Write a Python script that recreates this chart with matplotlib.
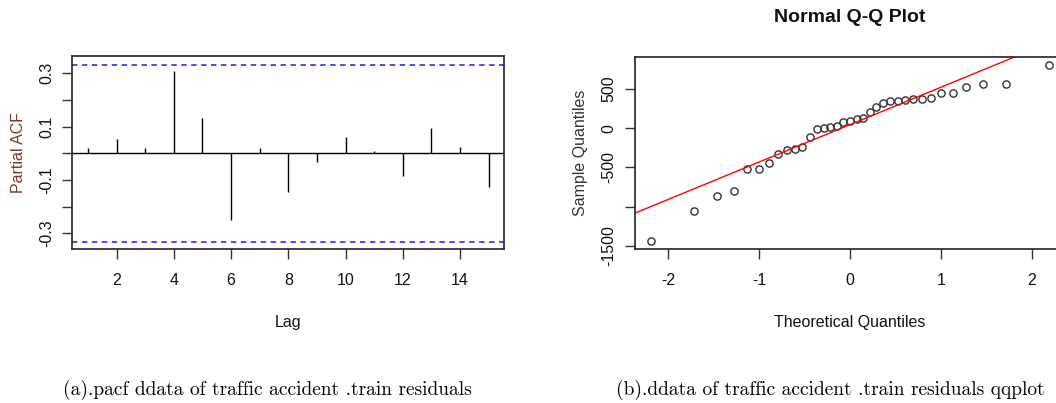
import numpy as np
import matplotlib as mpl
import matplotlib.pyplot as plt
from statistics import NormalDist

##################################################
# fonts: R default look -> Arial-like sans, captions in a LaTeX-like serif
mpl.rcParams['font.family'] = ['Liberation Sans', 'DejaVu Sans']
mpl.rcParams['axes.unicode_minus'] = False
##################################################
# data
lags = list(range(1, 16))
pacf_vals = [0.019, 0.054, 0.019, 0.310, 0.134, -0.252, 0.021, -0.146,
             -0.034, 0.062, 0.010, -0.085, 0.094, 0.022, -0.125]
n_obs = 35

residuals = [-1441, -1051, -864, -797, -513, -513, -441, -322, -280, -271,
             -242, -114, -8, 4, 17, 25, 80, 89, 123, 136, 203, 271, 322, 352,
             352, 364, 369, 377, 390, 445, 453, 525, 568, 568, 809]

pacf_yticks = [-0.3, -0.2, -0.1, 0.0, 0.1, 0.2, 0.3]
pacf_ylabels = ['-0.3', '', '-0.1', '', '0.1', '', '0.3']
pacf_xticks = [2, 4, 6, 8, 10, 12, 14]

qq_yticks = [-1500, -1000, -500, 0, 500]
qq_ylabels = ['-1500', '', '-500', '0', '500']
qq_xticks = [-2, -1, 0, 1, 2]

caption_a = '(a).pacf ddata of traffic accident .train residuals'
caption_b = '(b).ddata of traffic accident .train residuals qqplot'
##################################################
fig = plt.figure(figsize=(10.56, 4.03), dpi=100)

spine_c = '#222222'
fs = 11.5


def style_axes(ax):
    for s in ax.spines.values():
        s.set_color(spine_c)
        s.set_linewidth(1.2)
    ax.tick_params(direction='out', length=7, width=1.0, color='#333333',
                   labelsize=fs, labelcolor='#111111')
    ax.tick_params(axis='x', pad=10)
    ax.tick_params(axis='y', labelrotation=90, pad=6)
    for lab in ax.get_yticklabels():
        lab.set_va('center')


# ---- (a) PACF
ax1 = fig.add_axes([72 / 1056, 1 - 249 / 403, 432 / 1056, 193 / 403])
ax1.vlines(lags, 0, pacf_vals, color='black', lw=1.0)
ax1.axhline(0, color='black', lw=1.0)
bound = 1.96 / np.sqrt(n_obs)
for b in (bound, -bound):
    ax1.axhline(b, color='#3b3bff', lw=1.3, ls=(0, (3, 2.5)))
ax1.set_xlim(0.44, 15.54)
ax1.set_ylim(-0.359, 0.365)
ax1.set_xticks(pacf_xticks)
ax1.set_yticks(pacf_yticks)
ax1.set_yticklabels(pacf_ylabels)
style_axes(ax1)
ax1.set_xlabel('Lag', fontsize=fs, labelpad=20, color='#111111')
ax1.set_ylabel('Partial ACF', fontsize=fs, labelpad=9, color='#7a3528')

# ---- (b) Q-Q plot
sample = np.sort(np.array(residuals, dtype=float))
n = len(sample)
nd = NormalDist()
probs = (np.arange(1, n + 1) - 0.5) / n
theo = np.array([nd.inv_cdf(p) for p in probs])

# qqline through the quartiles
q1, q3 = np.percentile(sample, [25, 75])
t1, t3 = nd.inv_cdf(0.25), nd.inv_cdf(0.75)
slope = (q3 - q1) / (t3 - t1)
icpt = q1 - slope * t1

ax2 = fig.add_axes([634.7 / 1056, 1 - 249 / 403, 430.6 / 1056, 191.7 / 403])
ax2.plot(theo, sample, 'o', ms=5.2, mfc='none', mec='#333333', mew=1.0)
xx = np.array([-3.0, 3.0])
ax2.plot(xx, icpt + slope * xx, color='red', lw=1.0)
ax2.set_xlim(-2.37, 2.37)
ax2.set_ylim(-1538, 903)
ax2.set_xticks(qq_xticks)
ax2.set_yticks(qq_yticks)
ax2.set_yticklabels(qq_ylabels)
style_axes(ax2)
ax2.set_xlabel('Theoretical Quantiles', fontsize=fs, labelpad=20, color='#111111')
ax2.set_ylabel('Sample Quantiles', fontsize=fs, labelpad=10, color='#333333')
fig.text(850 / 1056, 1 - 17 / 403, 'Normal Q-Q Plot', ha='center', va='center',
         fontsize=14, fontweight='bold', color='#111111')

# ---- captions
fig.text(267 / 1056, 1 - 390 / 403, caption_a, ha='center', va='center',
         fontsize=14, family=['cmr10', 'DejaVu Serif'])
fig.text(830 / 1056, 1 - 390 / 403, caption_b, ha='center', va='center',
         fontsize=14, family=['cmr10', 'DejaVu Serif'])

fig.savefig('out.png', dpi=100)
